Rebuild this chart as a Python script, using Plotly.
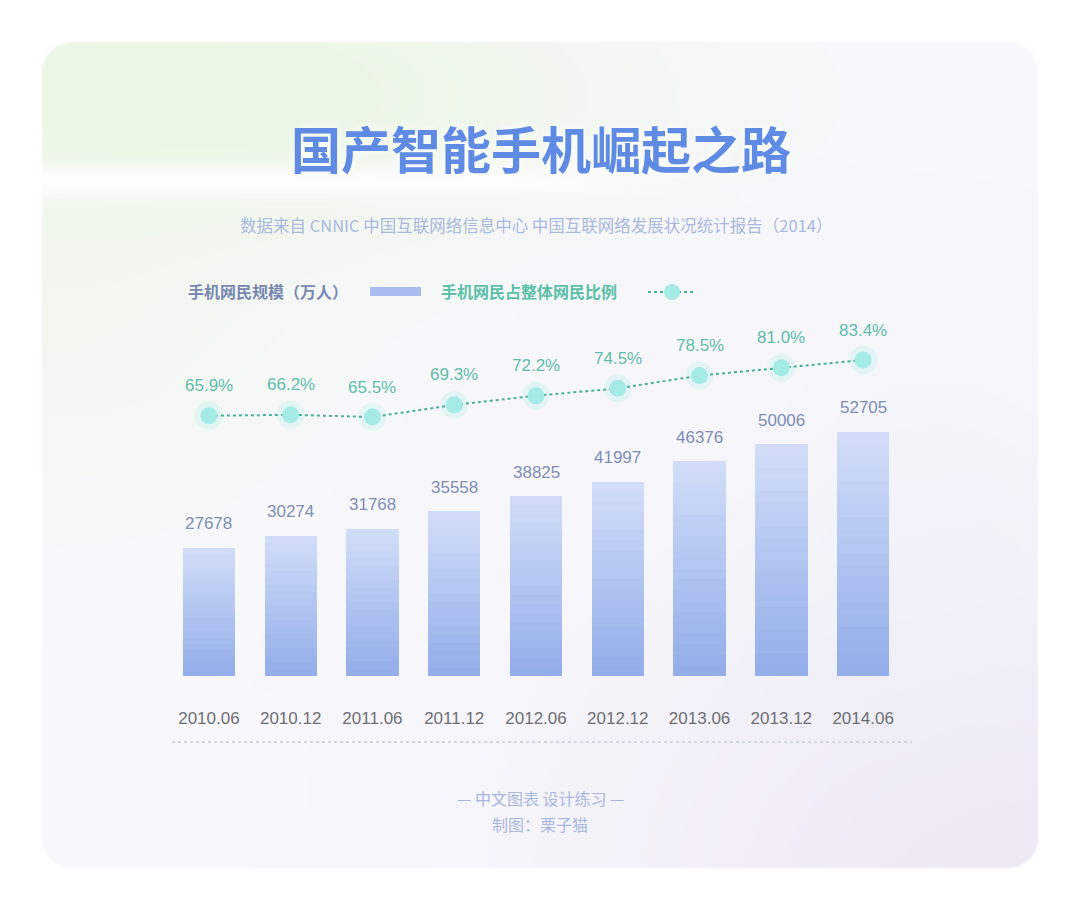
import base64
import struct
import zlib

import numpy as np
import plotly.graph_objects as go

# data
periods = ["2010.06", "2010.12", "2011.06", "2011.12", "2012.06",
           "2012.12", "2013.06", "2013.12", "2014.06"]
users = [27678, 30274, 31768, 35558, 38825, 41997, 46376, 50006, 52705]
share = [65.9, 66.2, 65.5, 69.3, 72.2, 74.5, 78.5, 81.0, 83.4]

title = "国产智能手机崛起之路"
subtitle = "数据来自 CNNIC 中国互联网络信息中心 中国互联网络发展状况统计报告（2014）"
legend_bar = "手机网民规模（万人）"
legend_line = "手机网民占整体网民比例"
footer1 = "— 中文图表 设计练习 —"
footer2 = "制图：栗子猫"

# the page has an 8px body margin, so the figure is a bit smaller than the window
OFF = 8
W, H = 1080 - 2 * OFF, 911 - 2 * OFF
CJK = "Noto Sans CJK SC"
NUM = "Liberation Sans, Arial, sans-serif"

BAR_TOP = np.array([208, 220, 248])
BAR_BOT = np.array([148, 174, 233])


def px_x(x):
    return (x - OFF) / W


def px_y(y):
    return 1 - (y - OFF) / H


def rgb(c):
    return "rgb({},{},{})".format(*[int(round(v)) for v in c])


# soft card background, drawn as a png so the gradients stay smooth
def card_png(w=532, h=448):
    ys, xs = np.mgrid[0:h, 0:w].astype(float)
    X = OFF + (xs + 0.5) * W / w
    Y = OFF + (ys + 0.5) * H / h
    col = np.zeros((h, w, 3)) + np.array([248, 248, 252])

    def mix(c, wt):
        wt = np.clip(wt, 0, 1)[..., None]
        return col * (1 - wt) + np.array(c) * wt

    g = np.exp(-((X - 160) / 480) ** 2 - ((Y - 95) / 150) ** 2) * 0.95
    col = mix([233, 246, 225], g)
    g2 = np.exp(-((X - 60) / 260) ** 2 - ((Y - 330) / 200) ** 2) * 0.55
    col = mix([238, 247, 232], g2)
    band = np.exp(-((Y - 182) / 17) ** 2) * np.clip((780 - X) / 320, 0, 1) * 0.9
    col = mix([255, 255, 255], band)
    lav = np.exp(-((X - 1010) / 430) ** 2 - ((Y - 880) / 360) ** 2) * 0.9
    col = mix([236, 231, 244], lav)
    cy = np.exp(-((X - 930) / 160) ** 2 - ((Y - 560) / 220) ** 2) * 0.35
    col = mix([236, 243, 250], cy)

    # rounded rectangle mask
    x0, x1, y0, y1, r = 42, 1038, 42, 868, 30
    cx = np.clip(X, x0 + r, x1 - r)
    cyy = np.clip(Y, y0 + r, y1 - r)
    d = np.sqrt((X - cx) ** 2 + (Y - cyy) ** 2) - r
    alpha = np.clip(0.5 - d / 2.0, 0, 1) * 255

    arr = np.dstack([col, alpha]).round().astype(np.uint8)
    raw = b"".join(b"\x00" + arr[i].tobytes() for i in range(h))

    def chunk(tag, data):
        return (struct.pack(">I", len(data)) + tag + data
                + struct.pack(">I", zlib.crc32(tag + data) & 0xffffffff))

    png = (b"\x89PNG\r\n\x1a\n"
           + chunk(b"IHDR", struct.pack(">IIBBBBB", w, h, 8, 6, 0, 0, 0))
           + chunk(b"IDAT", zlib.compress(raw, 9))
           + chunk(b"IEND", b""))
    return "data:image/png;base64," + base64.b64encode(png).decode()


# bars: each bar is split into equal stacked slices, shaded bottom->top
N_SLICES = 20
traces = []
for k in range(N_SLICES):
    t = k / (N_SLICES - 1)
    c = BAR_BOT * (1 - t) + BAR_TOP * t
    traces.append(go.Bar(x=periods, y=[u / N_SLICES for u in users],
                         width=0.64, marker=dict(color=rgb(c), line=dict(width=0)),
                         customdata=users, hovertemplate="%{x}: %{customdata}<extra></extra>",
                         showlegend=False))

glow = go.Scatter(x=periods, y=share, yaxis="y2", mode="markers",
                  marker=dict(size=28, color="rgba(160,236,230,0.22)"),
                  hoverinfo="skip", showlegend=False)

line = go.Scatter(x=periods, y=share, yaxis="y2", mode="lines+markers",
                  line=dict(color="#4aae98", width=2, dash="dot"),
                  marker=dict(size=17, color="#a4ebe6",
                              line=dict(width=0)),
                  showlegend=False)

fig = go.Figure(data=traces + [glow, line])

# category positions are given by index, "2010.06" would be read as a number
annotations = []
for i, u in enumerate(users):
    annotations.append(dict(x=i, y=u, xref="x", yref="y", text=str(u),
                            showarrow=False, yshift=24,
                            font=dict(family=NUM, size=17, color="#7f8db3")))
for i, s in enumerate(share):
    annotations.append(dict(x=i, y=s, xref="x", yref="y2", text=f"{s:.1f}%",
                            showarrow=False, yshift=30,
                            font=dict(family=NUM, size=17, color="#5fbcaa")))


def note(text, x, y, size, color, xanchor="center"):
    return dict(x=x, y=y, xref="paper", yref="paper", text=text,
                showarrow=False, xanchor=xanchor, yanchor="middle",
                font=dict(family=CJK, size=size, color=color))


title_note = note(f"<b>{title}</b>", px_x(541), px_y(147), 50, "#5f8be4")
title_note["font"]["shadow"] = "0px 0px 10px rgba(255,255,255,0.95)"

annotations += [
    title_note,
    note(subtitle, px_x(536), px_y(225), 16.5, "#aab9de"),
    note(f"<b>{legend_bar}</b>", px_x(186), px_y(291), 16, "#7888b0", "left"),
    note(f"<b>{legend_line}</b>", px_x(439), px_y(291), 16, "#5cbfa8", "left"),
    note(footer1, px_x(540), px_y(798), 16, "#a8b7dc"),
    note(footer2, px_x(540), px_y(824), 16, "#a8b7dc"),
]

shapes = [
    # legend swatches
    dict(type="rect", xref="paper", yref="paper",
         x0=px_x(370), x1=px_x(421), y0=px_y(296), y1=px_y(287),
         fillcolor="#a9bcef", line=dict(width=0)),
    dict(type="line", xref="paper", yref="paper",
         x0=px_x(648), x1=px_x(696), y0=px_y(292), y1=px_y(292),
         line=dict(color="#4aae98", width=2, dash="dot")),
    dict(type="circle", xref="paper", yref="paper",
         x0=px_x(664), x1=px_x(680), y0=px_y(300), y1=px_y(284),
         fillcolor="#a4ebe6", line=dict(width=0)),
    # dotted rule under the axis labels
    dict(type="line", xref="paper", yref="paper",
         x0=px_x(172), x1=px_x(912), y0=px_y(742), y1=px_y(742),
         line=dict(color="#d3d6e2", width=2, dash="dot")),
]

fig.update_layout(
    width=W, height=H,
    margin=dict(l=0, r=0, t=0, b=0),
    paper_bgcolor="white", plot_bgcolor="rgba(0,0,0,0)",
    barmode="stack", bargap=0,
    xaxis=dict(domain=[px_x(168), px_x(904)], type="category",
               range=[-0.5, len(periods) - 0.5],
               showgrid=False, zeroline=False, showline=False,
               ticks="outside", ticklen=27, tickcolor="rgba(0,0,0,0)",
               tickfont=dict(family=NUM, size=17, color="#6e6e72")),
    yaxis=dict(domain=[px_y(676), px_y(300)], range=[0, 81210],
               visible=False, fixedrange=True),
    yaxis2=dict(domain=[px_y(676), px_y(300)], range=[-15.84, 102.25],
                overlaying="y", visible=False, fixedrange=True),
    annotations=annotations,
    shapes=shapes,
    images=[dict(source=card_png(), xref="paper", yref="paper",
                 x=0, y=1, sizex=1, sizey=1, sizing="stretch",
                 xanchor="left", yanchor="top", layer="below")],
    showlegend=False,
)

fig.write_html("out.html")
